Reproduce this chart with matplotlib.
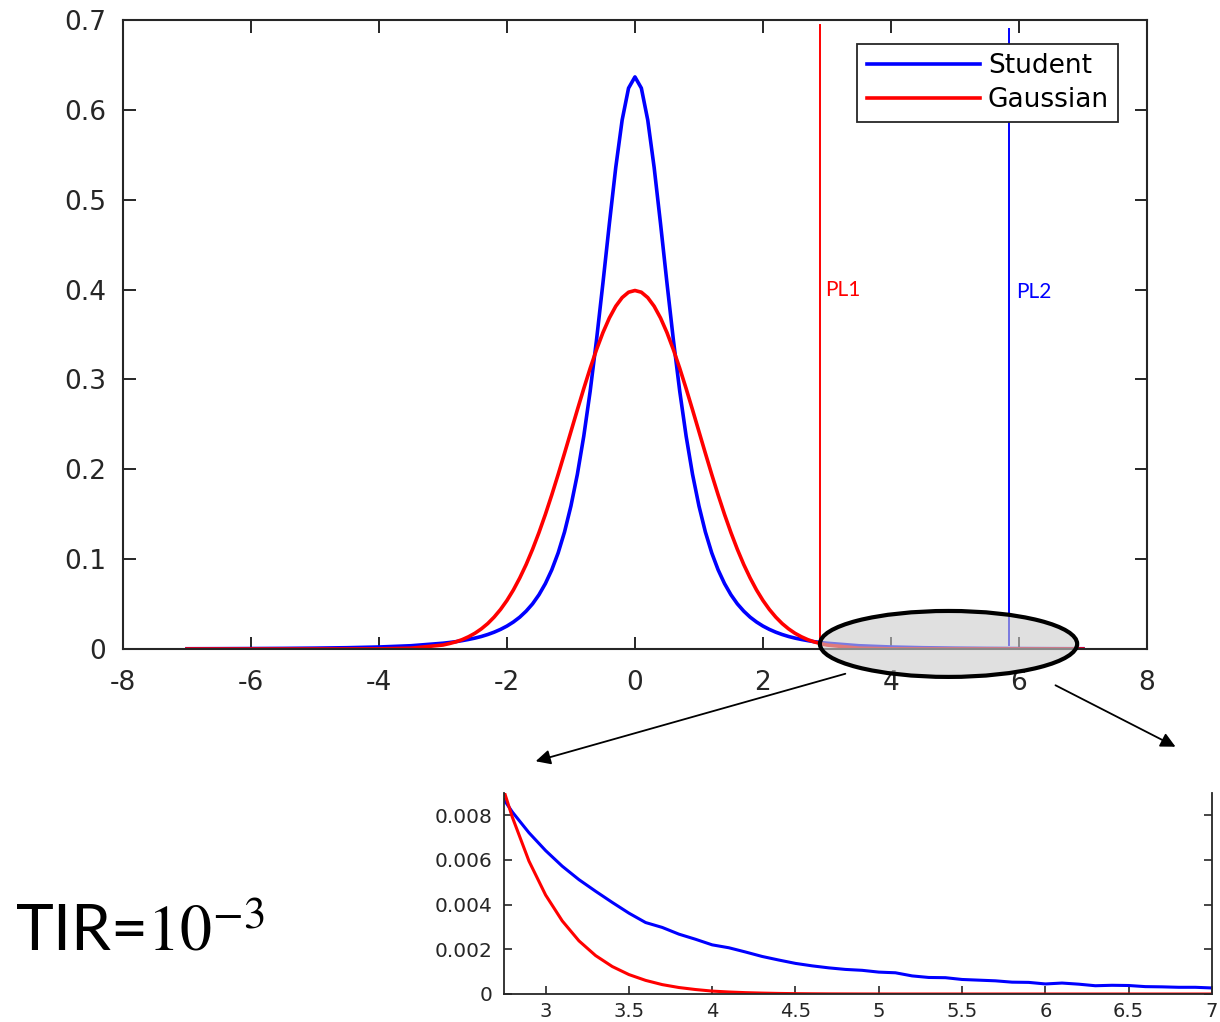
import numpy as np
import matplotlib
matplotlib.use('Agg')
import matplotlib.pyplot as plt
from matplotlib.patches import Ellipse

plt.rcParams['font.family'] = ['DejaVu Sans']
plt.rcParams['mathtext.fontset'] = 'stix'

# main plot, sampled pdf values
x_main = np.concatenate([np.arange(-7, -3.4, 0.5),
                         np.round(np.arange(-3, 3.05, 0.1), 1),
                         np.arange(3.5, 7.05, 0.5)])

student = [0.00025, 0.00034, 0.00047, 0.00065, 0.00094, 0.0014, 0.0022, 0.0036,
           0.0064, 0.0072, 0.0081, 0.0093, 0.0106, 0.0121, 0.0139, 0.0161, 0.0187, 0.0218,
           0.0255, 0.0300, 0.0354, 0.0421, 0.0502, 0.0603, 0.0727, 0.0880, 0.1069, 0.1303,
           0.1592, 0.1943, 0.2367, 0.2867, 0.3442, 0.4074, 0.4731, 0.5358, 0.5886, 0.6241,
           0.6366,
           0.6241, 0.5886, 0.5358, 0.4731, 0.4074, 0.3442, 0.2867, 0.2367, 0.1943, 0.1592,
           0.1303, 0.1069, 0.0880, 0.0727, 0.0603, 0.0502, 0.0421, 0.0354, 0.0300, 0.0255,
           0.0218, 0.0187, 0.0161, 0.0139, 0.0121, 0.0106, 0.0093, 0.0081, 0.0072, 0.0064,
           0.0036, 0.0022, 0.0014, 0.00094, 0.00065, 0.00047, 0.00034, 0.00025]

gauss = [0, 0, 0, 0, 0, 0.00002, 0.00013, 0.00087,
         0.0044, 0.0060, 0.0079, 0.0104, 0.0136, 0.0175, 0.0224, 0.0283, 0.0355, 0.0440,
         0.0540, 0.0656, 0.0790, 0.0940, 0.1109, 0.1295, 0.1497, 0.1714, 0.1942, 0.2179,
         0.2420, 0.2661, 0.2897, 0.3123, 0.3332, 0.3521, 0.3683, 0.3814, 0.3910, 0.3970,
         0.3989,
         0.3970, 0.3910, 0.3814, 0.3683, 0.3521, 0.3332, 0.3123, 0.2897, 0.2661, 0.2420,
         0.2179, 0.1942, 0.1714, 0.1497, 0.1295, 0.1109, 0.0940, 0.0790, 0.0656, 0.0540,
         0.0440, 0.0355, 0.0283, 0.0224, 0.0175, 0.0136, 0.0104, 0.0079, 0.0060, 0.0044,
         0.00087, 0.00013, 0.00002, 0, 0, 0, 0, 0]

pl1 = 2.89
pl2 = 5.84

# zoomed tail
x_tail = np.concatenate([[2.75], np.round(np.arange(2.8, 7.05, 0.1), 1)])
student_tail = [0.00870, 0.00815, 0.00722,
                0.00642, 0.00572, 0.00512, 0.00460, 0.00410, 0.00362, 0.00320, 0.00298, 0.00268, 0.00245,
                0.00220, 0.00207, 0.00188, 0.00168, 0.00152, 0.00137, 0.00126, 0.00117, 0.00110, 0.00106,
                0.00098, 0.00095, 0.00081, 0.00074, 0.00073, 0.00065, 0.00062, 0.00059, 0.00053, 0.00052,
                0.00045, 0.00049, 0.00044, 0.00037, 0.00039, 0.00038, 0.00033, 0.00032, 0.00030, 0.00030,
                0.00027]
gauss_tail = [0.00909, 0.00792, 0.00595,
              0.00443, 0.00327, 0.00238, 0.00172, 0.00123, 0.00087, 0.00061, 0.00042, 0.00029, 0.00020,
              0.00013, 0.00009, 0.00006, 0.00004, 0.000025, 0.000016, 0.00001, 0.000006, 0.000004, 0.000002,
              0.000001] + [0] * 20

main_xticks = [-8, -6, -4, -2, 0, 2, 4, 6, 8]
main_yticks = [0, 0.1, 0.2, 0.3, 0.4, 0.5, 0.6, 0.7]
main_ylabels = ['0', '0.1', '0.2', '0.3', '0.4', '0.5', '0.6', '0.7']
tail_xticks = [3, 3.5, 4, 4.5, 5, 5.5, 6, 6.5, 7]
tail_xlabels = ['3', '3.5', '4', '4.5', '5', '5.5', '6', '6.5', '7']
tail_yticks = [0, 0.002, 0.004, 0.006, 0.008]
tail_ylabels = ['0', '0.002', '0.004', '0.006', '0.008']

fig = plt.figure(figsize=(12.2, 10.22), dpi=100)
ax = fig.add_axes([0.1008, 0.3650, 0.8393, 0.6155])

ax.plot(x_main, student, color='#0000ff', lw=2.6, label='Student')
ax.plot(x_main, gauss, color='#ff0000', lw=2.6, label='Gaussian')
ax.plot([pl1, pl1], [0.006, 0.694], color='#ff0000', lw=1.4)
ax.plot([pl2, pl2], [0.004, 0.69], color='#0000ff', lw=1.4)
ax.text(pl1 + 0.08, 0.40, 'PL1', color='#ff0000', fontsize=15, family='Lato', va='center')
ax.text(pl2 + 0.12, 0.397, 'PL2', color='#0000ff', fontsize=15, family='Lato', va='center')

ell = Ellipse((4.9, 0.0056), 4.02, 0.0734, facecolor=(0.8, 0.8, 0.8, 0.6),
              edgecolor='black', lw=3, clip_on=False, zorder=4)
ax.add_patch(ell)

ax.set_xlim(-8, 8)
ax.set_ylim(0, 0.7)
ax.set_xticks(main_xticks)
ax.set_xticklabels([str(t) for t in main_xticks])
ax.set_yticks(main_yticks)
ax.set_yticklabels(main_ylabels)
ax.tick_params(direction='in', length=9, width=1.4, top=True, right=True,
               labelsize=19, colors='#262626', pad=12)
ax.tick_params(axis='x', pad=15)
for s in ax.spines.values():
    s.set_linewidth(1.5)
    s.set_color('#262626')

leg = ax.legend(loc='upper right', bbox_to_anchor=(0.972, 0.962), borderaxespad=0,
                fancybox=False, edgecolor='#262626', fontsize=19, handlelength=4.3,
                handletextpad=0.3, labelspacing=0.3, borderpad=0.35, framealpha=1)
leg.get_frame().set_linewidth(1.3)

# inset with the tail
ax2 = fig.add_axes([0.4131, 0.0274, 0.5803, 0.1967])
ax2.plot(x_tail, student_tail, color='#0000ff', lw=2.2)
ax2.plot(x_tail, gauss_tail, color='#ff0000', lw=2.2)
ax2.set_xlim(2.75, 7)
ax2.set_ylim(0, 0.009)
ax2.set_xticks(tail_xticks)
ax2.set_xticklabels(tail_xlabels)
ax2.set_yticks(tail_yticks)
ax2.set_yticklabels(tail_ylabels)
ax2.tick_params(direction='in', length=6, width=1.2, right=True, labelsize=14.5,
                colors='#262626', pad=8)
ax2.tick_params(axis='x', pad=6, labelsize=14)
ax2.spines['top'].set_visible(False)
for s in ['left', 'right', 'bottom']:
    ax2.spines[s].set_linewidth(1.3)
    ax2.spines[s].set_color('#262626')

# arrows from the ellipse to the inset
H = 1022
ax.annotate('', xy=(533, H - 762), xytext=(848, H - 673), xycoords='figure pixels',
            textcoords='figure pixels', annotation_clip=False,
            arrowprops=dict(arrowstyle='-|>', color='black', lw=1.3, mutation_scale=22))
ax.annotate('', xy=(1178, H - 748), xytext=(1053, H - 684), xycoords='figure pixels',
            textcoords='figure pixels', annotation_clip=False,
            arrowprops=dict(arrowstyle='-|>', color='black', lw=1.3, mutation_scale=22))

fig.text(15 / 1220, 1 - 950 / 1022, r'TIR=$10^{-3}$', fontsize=46, family='Lato', va='baseline')

fig.savefig('out.png', dpi=100)
